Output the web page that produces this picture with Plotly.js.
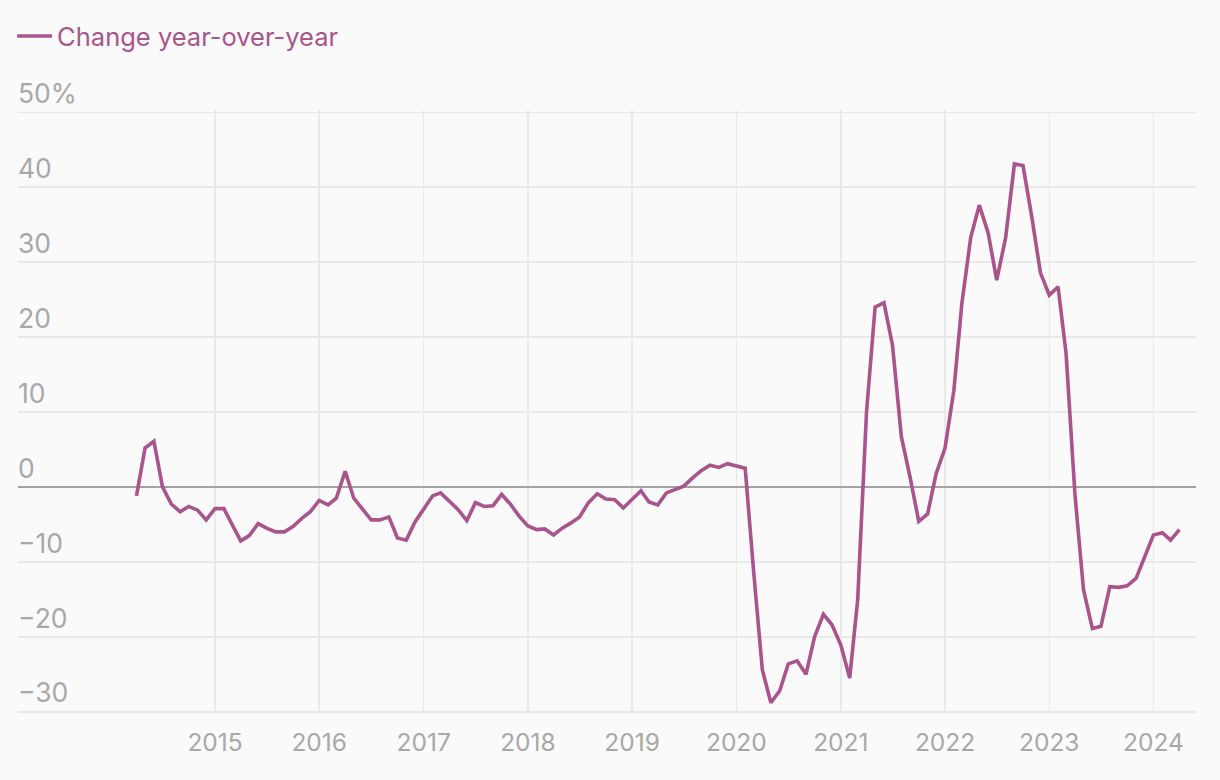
<!DOCTYPE html>
<html>
<head>
<meta charset="utf-8">
<script src="https://cdn.plot.ly/plotly-3.0.1.min.js"></script>
<style>
html,body{margin:0;padding:0;background:#fafafa;}
#chart{width:1220px;height:780px;}
</style>
</head>
<body>
<div id="chart"></div>
<script>
const seriesName = "Change year-over-year";
const startYear = 2014, startMonth = 4;
const changeYoY = [
  // 2014 (Apr-Dec)
  -1.2, 5.2, 6.1, 0.0, -2.3, -3.3, -2.6, -3.1, -4.4,
  // 2015
  -2.9, -2.9, -5.0, -7.2, -6.5, -4.9, -5.5, -6.0, -6.0, -5.3, -4.2, -3.3,
  // 2016
  -1.8, -2.4, -1.5, 2.1, -1.5, -3.0, -4.4, -4.4, -4.0, -6.8, -7.1, -4.7,
  // 2017
  -2.9, -1.2, -0.8, -2.0, -3.0, -4.5, -2.1, -2.6, -2.5, -1.0, -2.3, -3.9,
  // 2018
  -5.2, -5.7, -5.6, -6.4, -5.5, -4.8, -4.0, -2.1, -0.9, -1.6, -1.7, -2.8,
  // 2019
  -1.6, -0.5, -2.0, -2.4, -0.8, -0.3, 0.1, 1.2, 2.2, 2.9, 2.6, 3.1,
  // 2020
  2.8, 2.5, -11.0, -24.4, -28.8, -27.2, -23.6, -23.2, -25.0, -20.0, -17.0, -18.4,
  // 2021
  -21.1, -25.5, -15.1, 10.0, 24.0, 24.6, 18.9, 6.7, 1.2, -4.6, -3.6, 1.8,
  // 2022
  5.2, 12.9, 24.5, 33.3, 37.6, 33.9, 27.6, 33.2, 43.1, 42.9, 36.0, 28.6,
  // 2023
  25.6, 26.7, 17.8, -1.0, -13.7, -18.9, -18.6, -13.3, -13.4, -13.2, -12.2, -9.3,
  // 2024 (Jan-Apr)
  -6.4, -6.1, -7.1, -5.7
];
const yTickVals = [-30, -20, -10, 0, 10, 20, 30, 40, 50];
const yTickText = ["\u221230", "\u221220", "\u221210", "0", "10", "20", "30", "40", "50%"];
const xTickYears = [2015, 2016, 2017, 2018, 2019, 2020, 2021, 2022, 2023, 2024];

const dates = changeYoY.map((v, i) => {
  const m = startMonth - 1 + i;
  const y = startYear + Math.floor(m / 12);
  const mm = (m % 12) + 1;
  return y + "-" + String(mm).padStart(2, "0") + "-01";
});

const lineColor = "#a9548b";
const tickColor = "#a8a8a8";
const font = "Inter, 'Noto Sans', sans-serif";

Plotly.newPlot("chart", [{
  type: "scatter",
  mode: "lines",
  name: seriesName,
  x: dates,
  y: changeYoY,
  line: {color: lineColor, width: 3.6},
  showlegend: true
}], {
  width: 1220, height: 780,
  paper_bgcolor: "#fafafa",
  plot_bgcolor: "#fafafa",
  margin: {l: 18, r: 24, t: 110, b: 66},
  font: {family: font, color: tickColor, size: 24},
  showlegend: true,
  legend: {
    x: -0.005, xanchor: "left", y: 1.1217, yanchor: "middle",
    orientation: "h",
    bgcolor: "rgba(0,0,0,0)",
    font: {family: font, size: 25.5, color: lineColor},
    itemwidth: 35
  },
  xaxis: {
    type: "date",
    range: ["2013-02-10", "2024-05-29"],
    tickvals: xTickYears.map(y => y + "-01-01"),
    ticktext: xTickYears.map(String),
    showgrid: true, gridcolor: "#e9e9e9", gridwidth: 1.5,
    zeroline: false, showline: false, ticks: "",
    ticklabelstandoff: 11,
    tickfont: {family: font, size: 24.5, color: tickColor},
    fixedrange: true
  },
  yaxis: {
    range: [-30.3, 50.3],
    tickvals: yTickVals,
    ticktext: yTickText,
    ticklabelposition: "inside top",
    ticklabeloverflow: "allow",
    ticklabelstandoff: -3,
    showgrid: true, gridcolor: "#e9e9e9", gridwidth: 1.5,
    zeroline: true, zerolinecolor: "#a3a3a3", zerolinewidth: 2,
    showline: false, ticks: "",
    tickfont: {family: font, size: 26.5, color: tickColor},
    fixedrange: true
  }
}, {displayModeBar: false, staticPlot: true});
</script>
</body>
</html>
